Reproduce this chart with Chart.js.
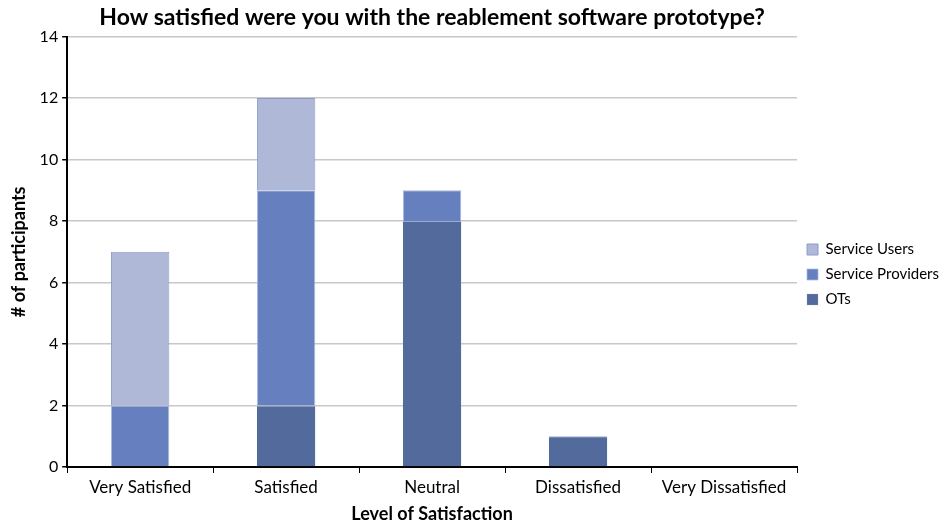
<!DOCTYPE html>
<html><head><meta charset="utf-8">
<script src="https://cdn.jsdelivr.net/npm/chart.js@4/dist/chart.umd.min.js"></script>
<style>html,body{margin:0;padding:0;background:#fff}#wrap{width:941px;height:526px;position:relative}</style>
</head><body><div id="wrap"><canvas id="c" width="941" height="526"></canvas></div>
<script>
const categories = ["Very Satisfied","Satisfied","Neutral","Dissatisfied","Very Dissatisfied"];
const otsValues = [0,2,8,1,0];
const providerValues = [2,7,1,0,0];
const userValues = [5,3,0,0,0];
const yTicks = [0,2,4,6,8,10,12,14];

const font = "Lato, 'Open Sans', sans-serif";
new Chart(document.getElementById('c'), {
  type: 'bar',
  data: {
    labels: categories,
    datasets: [
      {label:'OTs', data: otsValues, backgroundColor:'#536a9c', borderColor:'#9aaad0', borderWidth:{top:1,left:0,right:0,bottom:0}},
      {label:'Service Providers', data: providerValues, backgroundColor:'#6680bf', borderColor:'#aab8e0', borderWidth:{top:1,left:1,right:1,bottom:0}},
      {label:'Service Users', data: userValues, backgroundColor:'#b0b8d8', borderColor:'#8a9cc8', borderWidth:1}
    ]
  },
  options: {
    responsive:false, animation:false,
    layout:{padding:{left:4,right:-8,top:0,bottom:1}},
    datasets:{bar:{categoryPercentage:0.4,barPercentage:1}},
    plugins:{
      title:{display:true,fullSize:false,text:'How satisfied were you with the reablement software prototype?',color:'#000',font:{family:font,size:23,weight:'bold'},padding:{top:4,bottom:5}},
      legend:{position:'right',reverse:true,align:'center',
        title:{display:true,text:' ',font:{size:10},padding:{top:6,bottom:6}},
        labels:{color:'#000',boxWidth:11,boxHeight:11,padding:10,font:{family:font,size:15}}},
      tooltip:{enabled:false}
    },
    scales:{
      x:{stacked:true,
        grid:{display:true,drawOnChartArea:false,offset:true,drawTicks:true,tickLength:6,color:'#000'},
        border:{color:'#000',width:2},
        ticks:{color:'#000',font:{family:font,size:17},padding:4},
        title:{display:true,text:'Level of Satisfaction',color:'#000',font:{family:font,size:18,weight:'bold'},padding:{top:2,bottom:0}}
      },
      y:{stacked:true,min:0,max:14,
        afterBuildTicks:(ax)=>{ax.ticks=yTicks.map(v=>({value:v}));},
        grid:{color:'#c8c8c8',lineWidth:1.5,tickLength:5,tickColor:'#000',drawTicks:true},
        border:{color:'#000',width:2},
        ticks:{color:'#000',font:{family:font,size:16},padding:4},
        title:{display:true,text:'# of participants',color:'#000',font:{family:font,size:18,weight:'bold'},padding:{bottom:6}}
      }
    }
  }
});
</script></body></html>
